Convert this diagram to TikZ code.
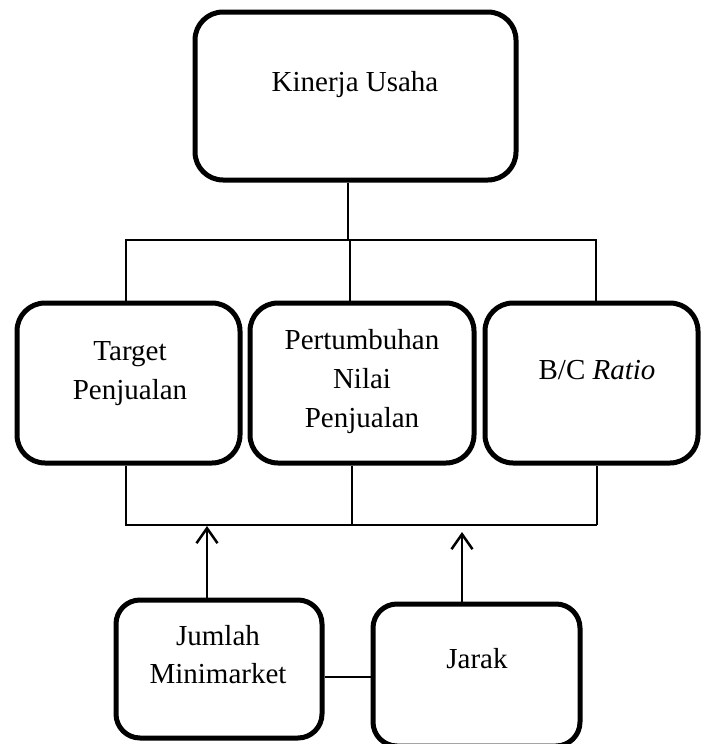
\documentclass[tikz,border=0pt]{standalone}
\usepackage{fontspec}
\setmainfont{Liberation Serif}
\usetikzlibrary{arrows.meta}
\begin{document}
\begin{tikzpicture}[x=1pt,y=-1pt,
  box/.style={draw=black, line width=5pt, rounded corners=28pt, inner sep=0pt, fill=white},
  sbox/.style={box, rounded corners=24pt},
  txt/.style={anchor=base, inner sep=0pt, font=\fontsize{29}{39}\selectfont},
  link/.style={line width=1.5pt},
  up/.style={line width=2.5pt, -{Straight Barb[length=15pt,width=21pt,line width=2.5pt]}}
]
\useasboundingbox (0,0) rectangle (701,744);

% boxes
\node[box, minimum width=321pt, minimum height=168pt] (top) at (355.5,96) {};
\node[box, minimum width=223pt, minimum height=160pt] (b1) at (128.5,383) {};
\node[box, minimum width=224pt, minimum height=160pt] (b2) at (362,383) {};
\node[box, minimum width=213pt, minimum height=160pt] (b3) at (591.5,383) {};
\node[sbox, minimum width=206pt, minimum height=138pt] (jm) at (219,669) {};
\node[sbox, minimum width=207pt, minimum height=142pt] (jr) at (476.5,675) {};

% texts
\node[txt] (t0) at (355,91) {Kinerja Usaha};
\node[txt] (t1a) at (130,360) {Target};
\node[txt] (t1b) at (130,399) {Penjualan};
\node[txt] (t2a) at (362,349) {Pertumbuhan};
\node[txt] (t2b) at (362,388) {Nilai};
\node[txt] (t2c) at (362,427) {Penjualan};
\node[txt] (t3) at (597,379) {B/C \textit{Ratio}};
\node[txt] (t4a) at (218,645) {Jumlah};
\node[txt] (t4b) at (218,683) {Minimarket};
\node[txt] (t5) at (477,668) {Jarak};

% upper branch
\coordinate (h0) at (348,240);
\coordinate (hl) at (125,240);
\coordinate (hr) at (597,240);
\coordinate (u1) at (126,240);
\coordinate (u2) at (350,240);
\coordinate (u3) at (596,240);
\draw[link] (top.south -| h0) -- (h0);
\draw[link] (hl) -- (hr);
\draw[link] (u1) -- (u1 |- b1.north);
\draw[link] (u2) -- (u2 |- b2.north);
\draw[link] (u3) -- (u3 |- b3.north);

% lower branch
\coordinate (dl) at (125,525);
\coordinate (dr) at (597,525);
\coordinate (d1) at (126,525);
\coordinate (d2) at (352,525);
\coordinate (d3) at (597,525);
\draw[link] (dl) -- (dr);
\draw[link] (b1.south -| d1) -- (d1);
\draw[link] (b2.south -| d2) -- (d2);
\draw[link] (b3.south -| d3) -- (d3);

% arrows
\coordinate (a1) at (207,526);
\coordinate (a2) at (462,532);
\draw[up] (jm.north -| a1) -- (a1);
\draw[up] (jr.north -| a2) -- (a2);

% side link
\coordinate (s) at (0,677);
\draw[link] (jm.east |- s) -- (jr.west |- s);
\end{tikzpicture}
\end{document}
